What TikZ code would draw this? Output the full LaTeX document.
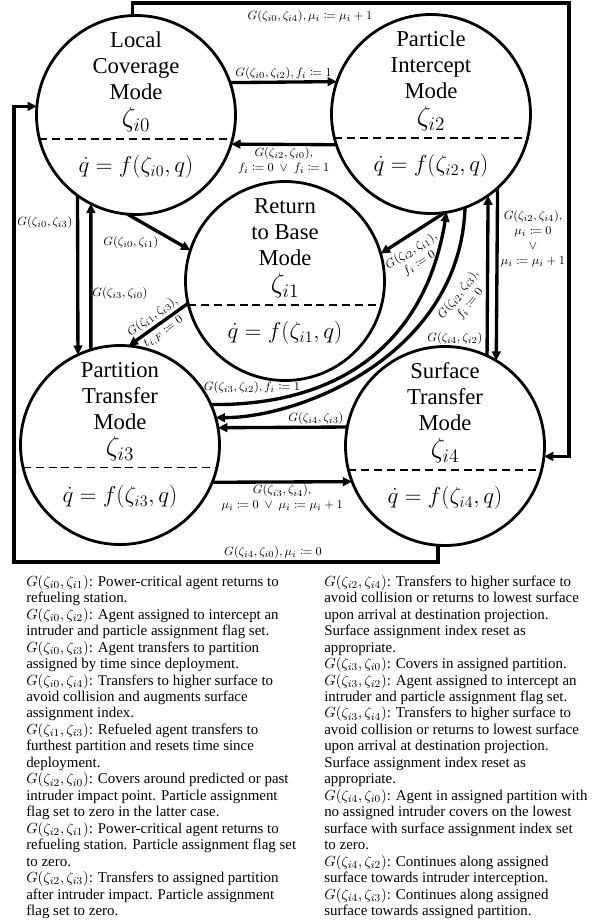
\documentclass[tikz,border=0pt]{standalone}
\usepackage{mathtools}
\usepackage{fontspec}
\setmainfont{Liberation Serif}
\usetikzlibrary{arrows.meta}
\begin{document}
\begin{tikzpicture}[x=0.75pt,y=-0.75pt,
  mode/.style={circle,draw,line width=2.1pt,minimum size=149.25pt,inner sep=0pt,outer sep=0pt},
  title/.style={font=\fontsize{17}{19.5}\selectfont,align=center,inner sep=0pt},
  zeta/.style={font=\fontsize{20}{22}\selectfont,inner sep=0pt},
  eqn/.style={font=\fontsize{18.5}{20}\selectfont,inner sep=0pt},
  sep/.style={line width=1.1pt,dash pattern=on 6pt off 3.6pt},
  conn/.style={line width=2.5pt,-{Triangle[length=7pt,width=6.5pt]}},
  lbl/.style={font=\fontsize{9.5}{11}\selectfont,inner sep=1pt,align=center},
  legend/.style={font=\fontsize{11.2}{12.35}\selectfont,inner sep=0pt,align=left,anchor=north west}]

\useasboundingbox (0,0) rectangle (592,921);

% modes
\node[mode] (c0) at (136,115) {};
\node[mode] (c2) at (431,114) {};
\node[mode] (c1) at (285,281) {};
\node[mode] (c3) at (120,445) {};
\node[mode] (c4) at (445,446) {};

\node[title] (t0) at (136,66) {Local\\Coverage\\Mode};
\node[zeta]  (z0) at (136,120) {$\zeta_{i0}$};
\node[eqn]   (e0) at (136,167) {$\dot q = f(\zeta_{i0},q)$};
\draw[sep] (c0.194) -- (c0.-14);

\node[title] (t2) at (431,65) {Particle\\Intercept\\Mode};
\node[zeta]  (z2) at (431,119) {$\zeta_{i2}$};
\node[eqn]   (e2) at (431,166) {$\dot q = f(\zeta_{i2},q)$};
\draw[sep] (c2.194.5) -- (c2.-14.5);

\node[title] (t1) at (285,232) {Return\\to Base\\Mode};
\node[zeta]  (z1) at (285,286) {$\zeta_{i1}$};
\node[eqn]   (e1) at (285,333) {$\dot q = f(\zeta_{i1},q)$};
\draw[sep] (c1.194.5) -- (c1.-14.5);

\node[title] (t3) at (120,396) {Partition\\Transfer\\Mode};
\node[zeta]  (z3) at (120,449) {$\zeta_{i3}$};
\node[eqn]   (e3) at (120,497) {$\dot q = f(\zeta_{i3},q)$};
\draw[sep] (c3.193.5) -- (c3.-13.5);

\node[title] (t4) at (445,397) {Surface\\Transfer\\Mode};
\node[zeta]  (z4) at (445,451) {$\zeta_{i4}$};
\node[eqn]   (e4) at (445,498) {$\dot q = f(\zeta_{i4},q)$};
\draw[sep] (c4.194) -- (c4.-14);

% outer loops
\coordinate (tr) at (569,3);
\draw[conn] (c0.92) |- (tr) |- (c4.-6);
\node[lbl] (l04) at (310,16) {$G(\zeta_{i0},\zeta_{i4}),\mu_i\coloneqq\mu_i+1$};

\coordinate (bl) at (14,562);
\draw[conn] (c4.-94.6) |- (bl) |- (c0.175.4);
\node[lbl] (l40) at (273,552) {$G(\zeta_{i4},\zeta_{i0}),\mu_i\coloneqq 0$};

% top pair
\draw[conn] (c0.19) -- node[lbl,above] (l02) {$G(\zeta_{i0},\zeta_{i2}),f_i\coloneqq 1$} (c2.161);
\draw[conn] (c2.198) -- node[lbl,below] (l20) {$G(\zeta_{i2},\zeta_{i0}),$\\$f_i\coloneqq 0\ \vee\ f_i\coloneqq 1$} (c0.-17.5);

% to return to base
\draw[conn] (c0.-95) -- (c1.162);
\node[lbl] (l01) at (131,242) {$G(\zeta_{i0},\zeta_{i1})$};
\draw[conn] (c2.-82) -- node[lbl,sloped,below=4pt,pos=0.64] (l21) {$G(\zeta_{i2},\zeta_{i1}),$\\$f_i\coloneqq 0$} (c1.16.6);
\draw[conn] (c1.193.5) -- node[lbl,sloped,font=\fontsize{9.5}{14}\selectfont] (l13) {$G(\zeta_{i1},\zeta_{i3}),$\\$t_{i,F}\coloneqq 0$} (c3.85.5);

% left verticals
\draw[conn] (c0.-126) -- (c3.115.5);
\node[lbl] (l03) at (45,222) {$G(\zeta_{i0},\zeta_{i3})$};
\draw[conn] (c3.107.5) -- (c0.-117.4);
\node[lbl] (l30) at (120,293) {$G(\zeta_{i3},\zeta_{i0})$};

% right verticals
\draw[conn] (c4.65.2) -- (c2.-55.5);
\node[lbl,anchor=east] (l42) at (484,338) {$G(\zeta_{i4},\zeta_{i2})$};
\draw[conn] (c2.-48.9) -- (c4.59.3);
\node[lbl,font=\fontsize{9.5}{11.25}\selectfont] (l24) at (533,239) {$G(\zeta_{i2},\zeta_{i4}),$\\$\mu_i\coloneqq 0$\\$\vee$\\$\mu_i\coloneqq\mu_i+1$};

% bottom pair
\draw[conn] (c4.169) -- (c3.10.4);
\node[lbl] (l43) at (316,418) {$G(\zeta_{i4},\zeta_{i3})$};
\draw[conn] (c3.-22.3) -- node[lbl,below] (l34) {$G(\zeta_{i3},\zeta_{i4}),$\\$\mu_i\coloneqq 0\ \vee\ \mu_i\coloneqq\mu_i+1$} (c4.201.7);

% curves between partition and particle
\draw[conn] (c3.24) .. controls (338,406) and (425,345) .. (c2.-81);
\node[lbl] (l32) at (252,387) {$G(\zeta_{i3},\zeta_{i2}),f_i\coloneqq 1$};
\draw[conn] (c2.-70) .. controls (460,355) and (300,418) .. (c3.16.5);
\node[lbl,rotate=52] (l23) at (464,299) {$G(\zeta_{i2},\zeta_{i3}),$\\$f_i\coloneqq 0$};

% legend
\node[legend] (leg1) at (26,575) {%
$G(\zeta_{i0},\zeta_{i1})$: Power-critical agent returns to\\
refueling station.\\
$G(\zeta_{i0},\zeta_{i2})$: Agent assigned to intercept an\\
intruder and particle assignment flag set.\\
$G(\zeta_{i0},\zeta_{i3})$: Agent transfers to partition\\
assigned by time since deployment.\\
$G(\zeta_{i0},\zeta_{i4})$: Transfers to higher surface to\\
avoid collision and augments surface\\
assignment index.\\
$G(\zeta_{i1},\zeta_{i3})$: Refueled agent transfers to\\
furthest partition and resets time since\\
deployment.\\
$G(\zeta_{i2},\zeta_{i0})$: Covers around predicted or past\\
intruder impact point. Particle assignment\\
flag set to zero in the latter case.\\
$G(\zeta_{i2},\zeta_{i1})$: Power-critical agent returns to\\
refueling station. Particle assignment flag set\\
to zero.\\
$G(\zeta_{i2},\zeta_{i3})$: Transfers to assigned partition\\
after intruder impact. Particle assignment\\
flag set to zero.};

\node[legend] (leg2) at (324,575) {%
$G(\zeta_{i2},\zeta_{i4})$: Transfers to higher surface to\\
avoid collision or returns to lowest surface\\
upon arrival at destination projection.\\
Surface assignment index reset as\\
appropriate.\\
$G(\zeta_{i3},\zeta_{i0})$: Covers in assigned partition.\\
$G(\zeta_{i3},\zeta_{i2})$: Agent assigned to intercept an\\
intruder and particle assignment flag set.\\
$G(\zeta_{i3},\zeta_{i4})$: Transfers to higher surface to\\
avoid collision or returns to lowest surface\\
upon arrival at destination projection.\\
Surface assignment index reset as\\
appropriate.\\
$G(\zeta_{i4},\zeta_{i0})$: Agent in assigned partition with\\
no assigned intruder covers on the lowest\\
surface with surface assignment index set\\
to zero.\\
$G(\zeta_{i4},\zeta_{i2})$: Continues along assigned\\
surface towards intruder interception.\\
$G(\zeta_{i4},\zeta_{i3})$: Continues along assigned\\
surface towards assigned partition.};
\end{tikzpicture}
\end{document}
